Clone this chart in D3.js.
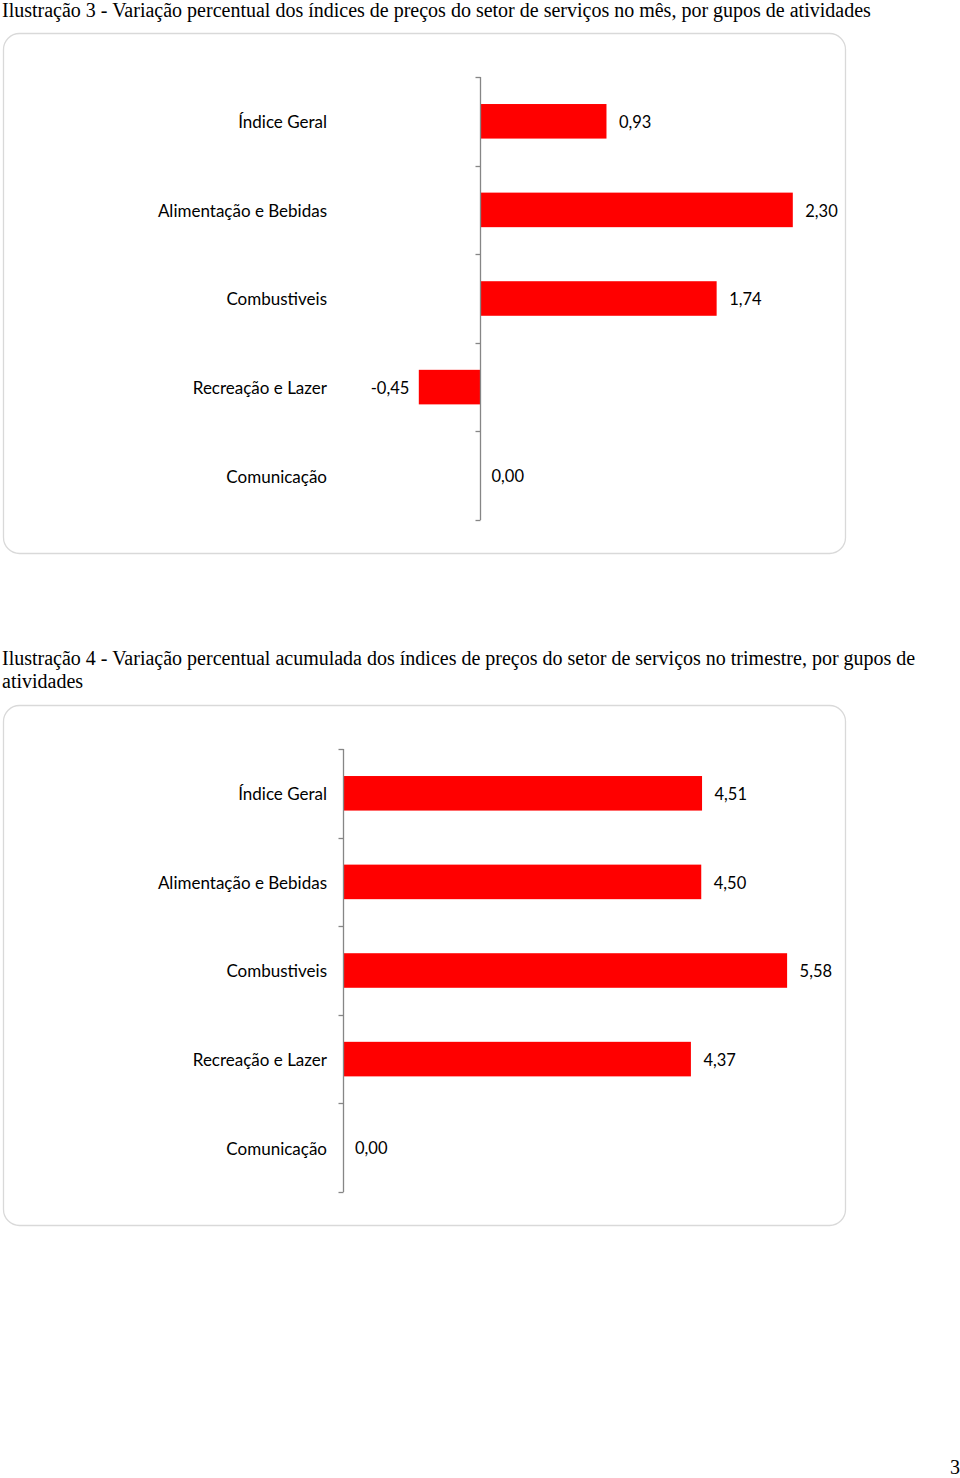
<!DOCTYPE html>
<html><head><meta charset="utf-8">
<script src="https://cdn.jsdelivr.net/npm/d3@7"></script>
<style>body{margin:0;background:#fff}svg{display:block}</style>
</head><body>
<svg id="c" width="960" height="1478"></svg>
<script>
const categories = ["Índice Geral","Alimentação e Bebidas","Combustiveis","Recreação e Lazer","Comunicação"];
const monthValues = [0.93, 2.30, 1.74, -0.45, 0.00];
const quarterValues = [4.51, 4.50, 5.58, 4.37, 0.00];
const title3 = "Ilustração 3 - Variação percentual dos índices de preços do setor de serviços no mês, por gupos de atividades";
const title4a = "Ilustração 4 - Variação percentual acumulada dos índices de preços do setor de serviços no trimestre, por gupos de";
const title4b = "atividades";
const pageNumber = "3";

const svg = d3.select("#c");
const fmt = v => v.toFixed(2).replace(".", ",");
const serif = "'Liberation Serif','Times New Roman',serif";
const sans = "Lato,'Open Sans',sans-serif";

svg.append("text").attr("x",2).attr("y",17).attr("font-family",serif).attr("font-size",20).text(title3);
svg.append("text").attr("x",2).attr("y",665).attr("font-family",serif).attr("font-size",20).text(title4a);
svg.append("text").attr("x",2).attr("y",688).attr("font-family",serif).attr("font-size",20).text(title4b);
svg.append("text").attr("x",960).attr("y",1474).attr("text-anchor","end").attr("font-family",serif).attr("font-size",20).text(pageNumber);

function chart(top, values, domain, range) {
  const g = svg.append("g").attr("transform", `translate(0,${top})`);
  g.append("rect").attr("x",3.5).attr("y",0.5).attr("width",842).attr("height",520)
    .attr("rx",16).attr("fill","#fff").attr("stroke","#d9d9d9").attr("stroke-width",1.3);
  const y = d3.scaleBand().domain(categories).range([44, 487]).paddingInner(0.61).paddingOuter(0.305);
  const x = d3.scaleLinear().domain(domain).range(range);
  const x0 = Math.round(x(0)) + 0.5;
  g.selectAll("rect.bar").data(values).join("rect").attr("class","bar")
    .attr("x", d => Math.min(x(d), x(0)) + 0.5)
    .attr("y", (d,i) => y(categories[i]))
    .attr("width", d => Math.abs(x(d) - x(0)))
    .attr("height", y.bandwidth())
    .attr("fill", "#ff0000");
  const step = y.step();
  const r0 = 44;
  g.append("line").attr("x1",x0).attr("x2",x0).attr("y1",r0).attr("y2",r0 + step*categories.length)
    .attr("stroke","#868686").attr("stroke-width",1.3);
  d3.range(categories.length+1).forEach(i => {
    const yy = Math.round(r0 + step*i) + 0.5;
    g.append("line").attr("x1",x0-5).attr("x2",x0).attr("y1",yy).attr("y2",yy)
      .attr("stroke","#868686").attr("stroke-width",1.3);
  });
  g.selectAll("text.cat").data(categories).join("text").attr("class","cat")
    .attr("x", 327).attr("y", d => y(d) + y.bandwidth()/2)
    .attr("dy","0.4em").attr("text-anchor","end")
    .attr("font-family",sans).attr("font-size",17).attr("fill","#000").text(d => d);
  g.selectAll("text.val").data(values).join("text").attr("class","val")
    .attr("x", d => d < 0 ? x(d) - 9 : (d === 0 ? x(0) + 12 : x(d) + 13))
    .attr("y", (d,i) => y(categories[i]) + y.bandwidth()/2)
    .attr("dy","0.4em").attr("text-anchor", d => d < 0 ? "end" : "start")
    .attr("font-family",sans).attr("font-size",16.5).attr("fill","#000").text(d => fmt(d));
}

chart(33, monthValues, [-0.5, 2.5], [411.5, 819.5]);
chart(705, quarterValues, [0, 6], [343, 820]);
</script>
</body></html>
